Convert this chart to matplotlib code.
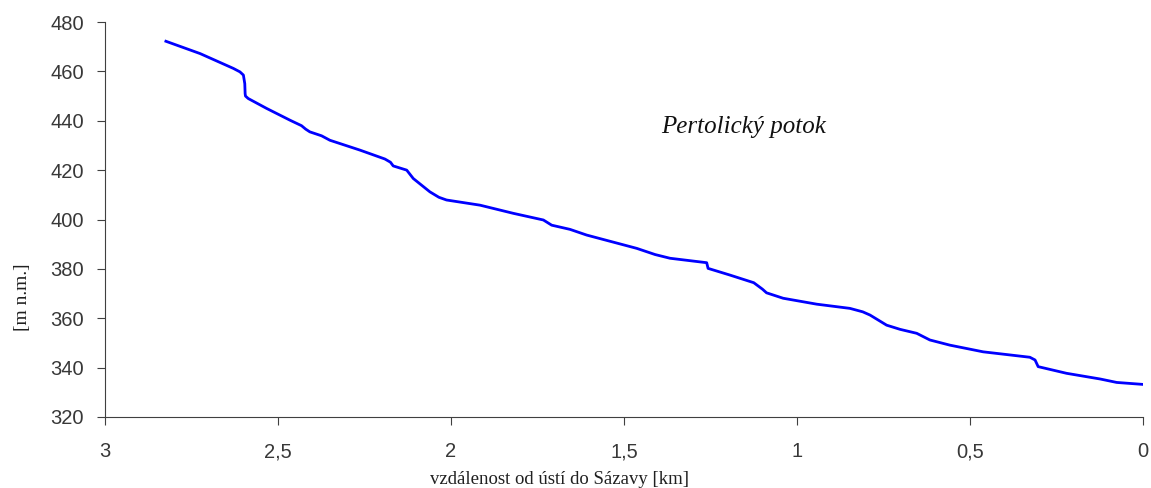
import matplotlib
matplotlib.use('Agg')
import matplotlib.pyplot as plt

# vzdálenost od ústí [km] a nadmořská výška [m n.m.]
km = [2.824, 2.725, 2.629, 2.610, 2.600, 2.596, 2.595, 2.594, 2.586, 2.533, 2.465, 2.432,
      2.420, 2.408, 2.374, 2.350, 2.263, 2.191, 2.175, 2.167, 2.128, 2.109, 2.061, 2.035,
      2.013, 1.916, 1.820, 1.733, 1.709, 1.656, 1.608, 1.463, 1.410, 1.367, 1.261, 1.257,
      1.194, 1.125, 1.100, 1.088, 1.040, 0.943, 0.847, 0.810, 0.789, 0.741, 0.702, 0.654,
      0.616, 0.558, 0.462, 0.327, 0.312, 0.303, 0.221, 0.124, 0.076, 0.0]
vyska = [472.2, 467.2, 461.2, 459.8, 458.5, 455.0, 451.0, 450.0, 449.0, 445.0, 440.2, 438.0,
         436.6, 435.5, 433.9, 432.1, 428.1, 424.5, 423.2, 421.7, 420.0, 416.6, 411.2, 409.0,
         407.9, 405.8, 402.5, 399.8, 397.7, 396.0, 393.7, 388.3, 385.8, 384.3, 382.5, 380.2,
         377.5, 374.4, 371.8, 370.3, 368.1, 365.7, 364.0, 362.6, 361.3, 357.2, 355.5, 353.9,
         351.2, 349.1, 346.4, 344.2, 343.1, 340.4, 337.7, 335.4, 334.0, 333.2]

fig = plt.figure(figsize=(11.51, 4.88), dpi=100)
ax = fig.add_axes([105/1151, 71/488, 1038/1151, 395/488])

ax.plot(km, vyska, color='#0000ff', lw=2, solid_joinstyle='round')

ax.set_xlim(3, 0)
ax.set_ylim(320, 480)
ax.set_xticks([3, 2.5, 2, 1.5, 1, 0.5, 0])
ax.set_xticklabels(['3', '2,5', '2', '1,5', '1', '0,5', '0'])
ax.set_yticks(range(320, 481, 20))

for s in ['top', 'right']:
    ax.spines[s].set_visible(False)
for s in ['left', 'bottom']:
    ax.spines[s].set_color('#404040')
ax.tick_params(direction='out', length=6, color='#404040', labelcolor='#383838',
               labelsize=14.5, pad=9)
for lab in ax.get_xticklabels() + ax.get_yticklabels():
    lab.set_family('Liberation Sans')
ax.tick_params(axis='x', pad=12)

fig.text(560/1151, 1 - 479/488, 'vzdálenost od ústí do Sázavy [km]', ha='center', va='center',
         family='Liberation Serif', fontsize=13.5, color='#202020')
fig.text(22/1151, 1 - 297/488, '[m n.m.]', ha='center', va='center', rotation=90,
         family='Liberation Serif', fontsize=14, color='#202020')
fig.text(744/1151, 1 - 127/488, 'Pertolický potok', ha='center', va='center',
         family='Liberation Serif', style='italic', fontsize=18, color='#101010')

fig.savefig('out.png', dpi=100)
